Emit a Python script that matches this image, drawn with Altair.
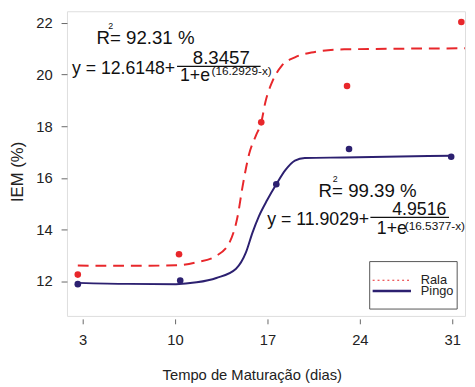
import altair as alt
import pandas as pd

FONT = "Liberation Sans"
RED = "#e8272b"
BLUE = "#2c2070"

dias_rala = [2.63, 10.30, 16.53, 23.03, 31.69]
iem_rala = [12.25, 13.04, 18.15, 19.56, 22.04]
dias_pingo = [2.63, 10.39, 17.67, 23.18, 30.92]
iem_pingo = [11.88, 12.02, 15.75, 17.12, 16.82]

# Fitted curves
curva_rala_x = [2.63, 6.43, 10.07, 11.64, 13.13, 14.12, 14.74, 15.11, 15.61, 16.11,
                16.53, 16.85, 17.35, 18.09, 19.08, 20.33, 22.81, 31.97]
curva_rala_y = [12.60, 12.59, 12.61, 12.73, 12.98, 13.49, 14.51, 15.65, 16.92, 17.62,
                18.15, 18.95, 19.71, 20.35, 20.67, 20.86, 20.98, 21.02]
curva_pingo_x = [2.63, 6.43, 10.07, 11.64, 13.13, 14.62, 15.37, 15.86, 16.35, 16.98,
                 17.67, 18.34, 19.08, 19.83, 22.81, 30.92]
curva_pingo_y = [11.93, 11.89, 11.88, 11.95, 12.12, 12.48, 13.11, 13.87, 14.51, 15.14,
                 15.75, 16.29, 16.67, 16.77, 16.79, 16.86]

x_ticks = [3, 10, 17, 24, 31]
y_ticks = [12, 14, 16, 18, 20, 22]
x_domain = [1.81, 31.97]
y_domain = [10.648, 22.457]

pts = pd.concat([
    pd.DataFrame({"dias": dias_rala, "iem": iem_rala, "serie": "Rala"}),
    pd.DataFrame({"dias": dias_pingo, "iem": iem_pingo, "serie": "Pingo"}),
])
cr = pd.DataFrame({"dias": curva_rala_x, "iem": curva_rala_y})
cp = pd.DataFrame({"dias": curva_pingo_x, "iem": curva_pingo_y})

xs = alt.Scale(domain=x_domain, nice=False, zero=False)
ys = alt.Scale(domain=y_domain, nice=False, zero=False)

X = alt.X("dias:Q", scale=xs, axis=alt.Axis(
    values=x_ticks, title="Tempo de Maturação (dias)", domain=False, grid=False,
    tickSize=5, offset=3, tickColor="#666", labelPadding=9, labelFontSize=15,
    labelFont=FONT, labelColor="#222", titleFont=FONT, titleFontSize=15,
    titleFontWeight="normal", titleColor="#222", titleX=188, titleY=62,
    titleAlign="center", titleBaseline="alphabetic"))
Y = alt.Y("iem:Q", scale=ys, axis=alt.Axis(
    values=y_ticks, title="IEM (%)", domain=False, grid=False,
    tickSize=6, tickColor="#666", labelPadding=9, labelFontSize=15,
    labelFont=FONT, labelColor="#222", titleFont=FONT, titleFontSize=17,
    titleFontWeight="normal", titleColor="#222", titleX=-50, titleY=163,
    titleAngle=-90, titleAlign="center", titleBaseline="middle"))

line_r = alt.Chart(cr).mark_line(color=RED, strokeWidth=2, strokeDash=[11, 7],
                                 interpolate="monotone", clip=True).encode(x=X, y=Y)
line_p = alt.Chart(cp).mark_line(color=BLUE, strokeWidth=2,
                                 interpolate="monotone", clip=True).encode(x=X, y=Y)
points = alt.Chart(pts).mark_circle(size=45, opacity=1).encode(
    x=X, y=Y,
    color=alt.Color("serie:N", scale=alt.Scale(domain=["Rala", "Pingo"], range=[RED, BLUE]),
                    legend=None))

dummy = pd.DataFrame({"a": [0]})


def txt(text, x, y, size, align="left", baseline="alphabetic", color="#111"):
    return alt.Chart(dummy).mark_text(text=text, fontSize=size, align=align,
                                      baseline=baseline, font=FONT, color=color).encode(
        x=alt.value(x), y=alt.value(y))


def hline(x1, x2, y, color="#111", width=1.2, dash=None):
    kw = dict(color=color, strokeWidth=width)
    if dash:
        kw["strokeDash"] = dash
    return alt.Chart(dummy).mark_rule(**kw).encode(
        x=alt.value(x1), x2=alt.value(x2), y=alt.value(y))


ann = [
    txt("R= 92.31 %", 30, 33, 19),
    txt("2", 44.5, 17.7, 9, align="center"),
    txt("y = 12.6148+", 5, 64.3, 18),
    hline(112, 197, 56),
    txt("8.3457", 157, 53.7, 19, align="center"),
    txt("1+e", 115, 71, 18),
    txt("(16.2929-x)", 147, 64.5, 12),
    txt("R= 99.39 %", 256, 189.3, 19),
    txt("2", 273, 173.7, 9, align="center"),
    txt("y = 11.9029+", 203.7, 217, 18),
    hline(308.7, 388.7, 209.7),
    txt("4.9516", 358.5, 207.5, 18, align="center"),
    txt("1+e", 315.3, 227, 18),
    txt("(16.5377-x)", 343.7, 223, 12),
]

legend_box = alt.Chart(dummy).mark_rect(fill="white", stroke="#555", strokeWidth=1).encode(
    x=alt.value(308), x2=alt.value(397), y=alt.value(254.7), y2=alt.value(303))
legend = [
    legend_box,
    hline(311, 350, 273.7, color=RED, width=1.2, dash=[2, 3]),
    hline(311, 350, 284.7, color=BLUE, width=2.5),
    txt("Rala", 360, 273, 13, baseline="middle", color="#222"),
    txt("Pingo", 360, 284.5, 13, baseline="middle", color="#222"),
]

chart = alt.layer(line_r, line_p, points, *ann, *legend).properties(
    width=405, height=310,
    autosize=alt.AutoSizeParams(type="none"),
    padding={"left": 60, "top": 0, "right": 2, "bottom": 69},
).configure_view(stroke="#666", strokeWidth=1).configure(background="white")

chart.save("out.html", embed_options={"renderer": "svg", "actions": False})
